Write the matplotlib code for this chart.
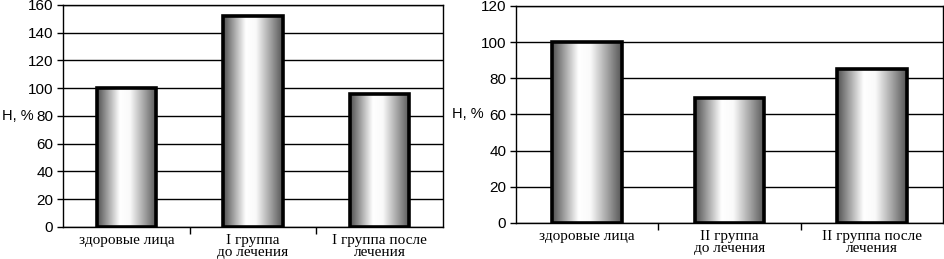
import numpy as np
import matplotlib.pyplot as plt
from matplotlib.colors import LinearSegmentedColormap

# data
labels_1 = ["здоровые лица", "I группа\nдо лечения", "I группа после\nлечения"]
values_1 = [100, 152, 96]
labels_2 = ["здоровые лица", "II группа\nдо лечения", "II группа после\nлечения"]
values_2 = [100, 69, 85]

ylim_1, yticks_1 = 160, np.arange(0, 161, 20)
ylim_2, yticks_2 = 120, np.arange(0, 121, 20)

# cylinder-like shading across the bar
cyl = LinearSegmentedColormap.from_list(
    "cyl", [(0.0, "#505050"), (0.15, "#959595"), (0.38, "#ffffff"),
            (0.55, "#fafafa"), (0.8, "#a0a0a0"), (1.0, "#555555")])
grad = np.linspace(0, 1, 256).reshape(1, -1)


def draw(ax, labels, values, ymax, yticks, width, ylab_x):
    x = np.arange(len(values))
    bars = ax.bar(x, values, width=width, facecolor="none", edgecolor="black",
                  linewidth=2.6, zorder=3)
    for b in bars:
        x0, y0, w, h = b.get_x(), b.get_y(), b.get_width(), b.get_height()
        im = ax.imshow(grad, cmap=cyl, aspect="auto", extent=(x0, x0 + w, y0, y0 + h),
                       zorder=2, interpolation="bicubic")
        im.set_clip_path(b)
    ax.set_xlim(-0.5, len(values) - 0.5)
    ax.set_ylim(0, ymax)
    ax.set_yticks(yticks)
    ax.yaxis.grid(True, color="black", linewidth=1.0, zorder=1)
    ax.set_axisbelow(True)
    ax.set_xticks(x)
    ax.set_xticklabels(labels, fontfamily="Liberation Serif", fontsize=11,
                       linespacing=0.95)
    ax.tick_params(axis="x", which="major", length=0, pad=5)
    ax.set_xticks(x[:-1] + 0.5, minor=True)
    ax.tick_params(axis="x", which="minor", length=5, width=1, direction="out")
    ax.tick_params(axis="y", length=4, width=1, labelsize=11, pad=3)
    for lab in ax.get_yticklabels():
        lab.set_fontfamily("Liberation Sans")
    for s in ax.spines.values():
        s.set_linewidth(1.0)
        s.set_color("black")
    ax.set_ylabel("H, %", rotation=0, fontfamily="Liberation Sans", fontsize=10.5,
                  ha="right", va="center")
    ax.yaxis.set_label_coords(ylab_x, 0.5)


fig = plt.figure(figsize=(9.45, 2.59), dpi=100)
ax1 = fig.add_axes([0.0667, 0.1236, 0.4021, 0.8571])
ax2 = fig.add_axes([0.546, 0.139, 0.452, 0.838])

draw(ax1, labels_1, values_1, ylim_1, yticks_1, 0.47, -0.077)
draw(ax2, labels_2, values_2, ylim_2, yticks_2, 0.49, -0.075)

fig.savefig("out.png", dpi=100)
